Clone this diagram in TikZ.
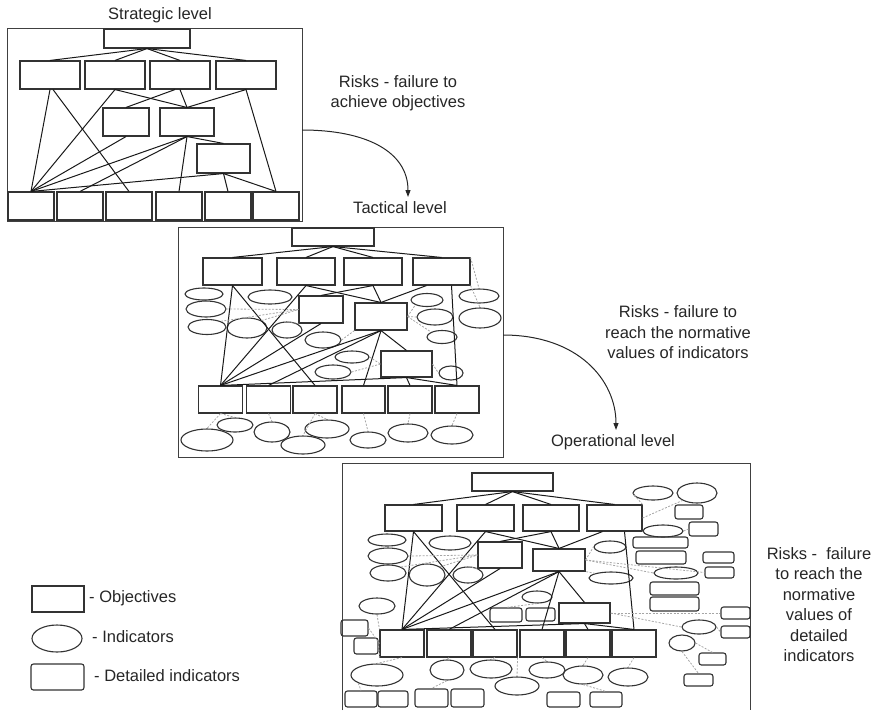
\documentclass[tikz,border=0pt]{standalone}
\usepackage{fontspec}
\setmainfont{Liberation Sans}
\usetikzlibrary{shapes.geometric,arrows.meta}

\tikzset{
  obj/.style 2 args={draw=black!80, line width=1.1pt, rectangle, inner sep=0pt, minimum width=#1pt, minimum height=#2pt},
  ind/.style 2 args={draw=black!80, line width=1.1pt, ellipse, inner sep=0pt, minimum width=#1pt, minimum height=#2pt},
  det/.style 2 args={draw=black!80, line width=1.1pt, rectangle, rounded corners=2.5pt, inner sep=0pt, minimum width=#1pt, minimum height=#2pt},
  link/.style={draw=black!90, line width=1pt},
  weak/.style={draw=black!35, line width=0.8pt, dash pattern=on 2pt off 1.5pt},
  frame/.style={draw=black!75, line width=1pt},
  flow/.style={draw=black!85, line width=1pt, -{Triangle[length=7pt,width=5pt]}},
  lbl/.style={font=\fontsize{16.5}{20.5}\selectfont, text=black!85, align=center, inner sep=0pt},
}

\begin{document}
\begin{tikzpicture}[x=1pt,y=1pt,yscale=-1]
	\useasboundingbox (0,0) rectangle (877,710);
	% strategic level
	\draw[frame] (7,28) rectangle (302,221);
	\node[obj={86}{19}] (s0) at (147,38.5) {};
	\node[obj={60}{28}] (s1) at (50,75) {};
	\node[obj={60}{28}] (s2) at (115,75) {};
	\node[obj={60}{28}] (s3) at (180,75) {};
	\node[obj={60}{28}] (s4) at (246,75) {};
	\node[obj={46}{28}] (sm1) at (126,122) {};
	\node[obj={54}{28}] (sm2) at (187,122) {};
	\node[obj={53}{29}] (sl) at (223.5,158.5) {};
	\node[obj={46}{28}] (sb1) at (31,206) {};
	\node[obj={46}{28}] (sb2) at (80,206) {};
	\node[obj={46}{28}] (sb3) at (129,206) {};
	\node[obj={46}{28}] (sb4) at (179,206) {};
	\node[obj={46}{28}] (sb5) at (228,206) {};
	\node[obj={46}{28}] (sb6) at (276,206) {};
	\coordinate (shub) at (sb1.north);
	\draw[link] (s0.south) -- (s1.north);
	\draw[link] (s0.south) -- (s2.north);
	\draw[link] (s0.south) -- (s3.north);
	\draw[link] (s0.south) -- (s4.north);
	\draw[link] (s1.south) -- (shub);
	\draw[link] ([xshift=3pt]s1.south) -- (sb3.north);
	\draw[link] (s2.south) -- (shub);
	\draw[link] (s2.south) -- (sm2.north);
	\draw[link] ([xshift=-5pt]s3.south) -- (sm1.north);
	\draw[link] (s3.south) -- (sm2.north);
	\draw[link] (s4.south) -- (sm2.north);
	\draw[link] (s4.south) -- (sb6.north);
	\draw[link] (sm1.south) -- (shub);
	\draw[link] (sm2.south) -- (shub);
	\draw[link] (sm2.south) -- (sb2.north);
	\draw[link] (sm2.south) -- (sb4.north);
	\draw[link] (sm2.south) -- (sl.north);
	\draw[link] (sl.south) -- (shub);
	\draw[link] (sl.south) -- (sb5.north);
	\draw[link] (sl.south) -- (sb6.north);
	% tactical level
	\draw[frame] (178,227) rectangle (503,457);
	\node[obj={82}{18}] (t0) at (333,237) {};
	\node[obj={59}{27}] (t1) at (232.5,271.5) {};
	\node[obj={58}{27}] (t2) at (306,271.5) {};
	\node[obj={58}{27}] (t3) at (373,271.5) {};
	\node[obj={57}{27}] (t4) at (441.5,271.5) {};
	\node[obj={44}{27}] (tm1) at (321,309.5) {};
	\node[obj={52}{27}] (tm2) at (381,316.5) {};
	\node[obj={51}{26}] (tl) at (406.5,364) {};
	\node[obj={44}{27}] (tb1) at (220.5,399.5) {};
	\node[obj={44}{27}] (tb2) at (268.5,399.5) {};
	\node[obj={44}{27}] (tb3) at (315,399.5) {};
	\node[obj={43}{27}] (tb4) at (363.5,399.5) {};
	\node[obj={44}{27}] (tb5) at (410,399.5) {};
	\node[obj={44}{27}] (tb6) at (457,399.5) {};
	\node[ind={38}{12}] (te1) at (204,294) {};
	\node[ind={40}{16}] (te2) at (206,309) {};
	\node[ind={38}{15}] (te3) at (207,327) {};
	\node[ind={44}{14}] (te4) at (270,297) {};
	\node[ind={40}{20}] (te5) at (247,328) {};
	\node[ind={30}{16}] (te6) at (287,330) {};
	\node[ind={36}{16}] (te7) at (323,340) {};
	\node[ind={34}{12}] (te8) at (352,357) {};
	\node[ind={36}{14}] (te9) at (333,372) {};
	\node[ind={32}{13}] (te10) at (427,300) {};
	\node[ind={36}{16}] (te11) at (435,317) {};
	\node[ind={30}{13}] (te12) at (442,337) {};
	\node[ind={24}{14}] (te13) at (451,373) {};
	\node[ind={40}{14}] (te14) at (479,296) {};
	\node[ind={42}{20}] (te15) at (480,318) {};
	\node[ind={52}{22}] (tbe1) at (207,440) {};
	\node[ind={36}{14}] (tbe2) at (235,425) {};
	\node[ind={36}{20}] (tbe3) at (272,432) {};
	\node[ind={44}{18}] (tbe4) at (303,445) {};
	\node[ind={44}{18}] (tbe5) at (327,429) {};
	\node[ind={36}{16}] (tbe6) at (368,440) {};
	\node[ind={40}{18}] (tbe7) at (408,433) {};
	\node[ind={42}{18}] (tbe8) at (452,435) {};
	\coordinate (thub) at (tb1.north);
	\draw[link] (t0.south) -- (t1.north);
	\draw[link] (t0.south) -- (t2.north);
	\draw[link] (t0.south) -- (t3.north);
	\draw[link] (t0.south) -- (t4.north);
	\draw[link] (t1.south) -- (thub);
	\draw[link] (t1.south) -- (tb3.north);
	\draw[link] (t2.south) -- (thub);
	\draw[link] (t2.south) -- (tm2.north);
	\draw[link] (t3.south) -- (tm1.north);
	\draw[link] (t3.south) -- (tm2.north);
	\draw[link] ([xshift=-15pt]t4.south) -- (tm2.north);
	\draw[link] ([xshift=10pt]t4.south) -- (tb6.north);
	\draw[link] (tm1.south) -- (thub);
	\draw[link] (tm2.south) -- (thub);
	\draw[link] (tm2.south) -- (tb2.north);
	\draw[link] (tm2.south) -- (tb4.north);
	\draw[link] (tm2.south) -- (tl.north);
	\draw[link] (tl.south) -- (thub);
	\draw[link] (tl.south) -- (tb5.north);
	\draw[link] (tl.south) -- (tb6.north);
	\draw[weak] (te2.east) -- (tm1.west);
	\draw[weak] (te3.north east) -- (tm1.west);
	\draw[weak] (te5.north east) -- (tm1.west);
	\draw[weak] (te6.north) -- (tm1.south west);
	\draw[weak] (tm2.east) -- (te10.south west);
	\draw[weak] (tm2.east) -- (te11.west);
	\draw[weak] (tm2.east) -- (te12.north west);
	\draw[weak] (t4.north east) -- (te14.north);
	\draw[weak] (t4.south east) -- (te15.north);
	\draw[weak] (tm2.south west) -- (te7.east);
	\draw[weak] (te9.east) -- (tl.west);
	\draw[weak] (te8.east) -- (tl.west);
	\draw[weak] (tl.east) -- (te13.west);
	\draw[weak] (tb1.south) -- (tbe1.north);
	\draw[weak] (tb1.south) -- (tbe2.north);
	\draw[weak] (tb2.south) -- (tbe3.north);
	\draw[weak] (tb3.south) -- (tbe4.north);
	\draw[weak] (tb3.south) -- (tbe5.north);
	\draw[weak] (tb4.south) -- (tbe6.north);
	\draw[weak] (tb5.south) -- (tbe7.north);
	\draw[weak] (tb6.south) -- (tbe8.north);
	% operational level
	\draw[frame] (342,710) |- (750,463) -- (750,710);
	\node[obj={81}{18}] (o0) at (512.5,482) {};
	\node[obj={57}{26}] (o1) at (413.5,518) {};
	\node[obj={57}{26}] (o2) at (485.5,518) {};
	\node[obj={56}{26}] (o3) at (551,518) {};
	\node[obj={55}{26}] (o4) at (614.5,518) {};
	\node[obj={44}{26}] (om1) at (500,555) {};
	\node[obj={52}{22}] (om2) at (559,560) {};
	\node[obj={51}{20}] (ol) at (584.5,613) {};
	\node[obj={44}{27}] (ob1) at (402,643.5) {};
	\node[obj={44}{27}] (ob2) at (449,643.5) {};
	\node[obj={44}{27}] (ob3) at (495,643.5) {};
	\node[obj={44}{27}] (ob4) at (542,643.5) {};
	\node[obj={44}{27}] (ob5) at (588,643.5) {};
	\node[obj={44}{27}] (ob6) at (634,643.5) {};
	\node[ind={38}{12}] (oe1) at (387,540) {};
	\node[ind={40}{16}] (oe2) at (388,556) {};
	\node[ind={36}{16}] (oe3) at (388,573) {};
	\node[ind={42}{14}] (oe4) at (450,543) {};
	\node[ind={36}{22}] (oe5) at (427,575) {};
	\node[ind={30}{16}] (oe6) at (468,575) {};
	\node[ind={32}{12}] (oe7) at (610,547) {};
	\node[ind={44}{12}] (oe8) at (611,578) {};
	\node[ind={30}{12}] (oe9) at (537,597) {};
	\node[ind={40}{14}] (oe10) at (653,493) {};
	\node[ind={40}{20}] (oe11) at (697,493) {};
	\node[ind={40}{12}] (oe12) at (663,531) {};
	\node[ind={44}{12}] (oe13) at (676,573) {};
	\node[ind={36}{16}] (oe14) at (377,606) {};
	\node[ind={34}{14}] (oe15) at (699,627) {};
	\node[ind={26}{16}] (oe16) at (682,643) {};
	\node[ind={52}{22}] (obe1) at (377,675) {};
	\node[ind={34}{20}] (obe2) at (447,670) {};
	\node[ind={42}{18}] (obe3) at (491,669) {};
	\node[ind={44}{18}] (obe4) at (517,686) {};
	\node[ind={36}{16}] (obe5) at (547,670) {};
	\node[ind={40}{18}] (obe6) at (583,675) {};
	\node[ind={40}{18}] (obe7) at (628,677) {};
	\node[det={32}{14}] (od1) at (506,615) {};
	\node[det={29}{13}] (od2) at (540.5,614.5) {};
	\node[det={27}{16}] (od3) at (354.5,628) {};
	\node[det={24}{16}] (od4) at (366,646) {};
	\node[det={32}{16}] (od5) at (361,699) {};
	\node[det={30}{16}] (od6) at (393,699) {};
	\node[det={33}{18}] (od7) at (431.5,698) {};
	\node[det={33}{18}] (od8) at (467.5,698) {};
	\node[det={33}{15}] (od9) at (563.5,699.5) {};
	\node[det={32}{15}] (od10) at (606,699.5) {};
	\node[det={28}{14}] (od11) at (689,512) {};
	\node[det={29}{14}] (od12) at (703.5,529) {};
	\node[det={55}{11}] (od13) at (660.5,542.5) {};
	\node[det={50}{13}] (od14) at (661,557.5) {};
	\node[det={31}{11}] (od15) at (718.5,557.5) {};
	\node[det={29}{11}] (od16) at (719.5,572.5) {};
	\node[det={49}{13}] (od17) at (674.5,588.5) {};
	\node[det={49}{14}] (od18) at (674.5,604) {};
	\node[det={29}{12}] (od19) at (735.5,613) {};
	\node[det={29}{12}] (od20) at (735.5,632) {};
	\node[det={27}{12}] (od21) at (712.5,659) {};
	\node[det={29}{12}] (od22) at (698.5,680) {};
	\coordinate (ohub) at (ob1.north);
	\draw[link] (o0.south) -- (o1.north);
	\draw[link] (o0.south) -- (o2.north);
	\draw[link] (o0.south) -- (o3.north);
	\draw[link] (o0.south) -- (o4.north);
	\draw[link] (o1.south) -- (ohub);
	\draw[link] (o1.south) -- (ob3.north);
	\draw[link] (o2.south) -- (ohub);
	\draw[link] (o2.south) -- (om2.north);
	\draw[link] (o3.south) -- (om1.north);
	\draw[link] (o3.south) -- (om2.north);
	\draw[link] ([xshift=-12pt]o4.south) -- (om2.north);
	\draw[link] ([xshift=10pt]o4.south) -- (ob6.north);
	\draw[link] (om1.south) -- (ohub);
	\draw[link] (om2.south) -- (ohub);
	\draw[link] (om2.south) -- (ob2.north);
	\draw[link] (om2.south) -- (ob4.north);
	\draw[link] (om2.south) -- (ol.north);
	\draw[link] (ol.south) -- (ohub);
	\draw[link] (ol.south) -- (ob5.north);
	\draw[link] (ol.south) -- (ob6.north);
	\draw[weak] (oe2.east) -- (om1.west);
	\draw[weak] (oe3.north east) -- (om1.west);
	\draw[weak] (oe5.north east) -- (om1.west);
	\draw[weak] (oe6.north) -- (om1.south west);
	\draw[weak] (om2.east) -- (oe7.west);
	\draw[weak] (om2.east) -- (od16.west);
	\draw[weak] (om2.east) -- (oe13.west);
	\draw[weak] (oe8.north west) -- (om2.south east);
	\draw[weak] (o4.north east) -- (oe10.west);
	\draw[weak] (o4.east) -- (oe11.south west);
	\draw[weak] (o4.south east) -- (oe12.west);
	\draw[weak] (oe12.east) -- (od12.west);
	\draw[weak] (ol.east) -- (oe15.west);
	\draw[weak] (ol.east) -- (od19.west);
	\draw[weak] (oe15.east) -- (od20.west);
	\draw[weak] (oe16.south) -- (od22.north);
	\draw[weak] (oe16.east) -- (od21.north);
	\draw[weak] (oe9.south) -- (od1.north);
	\draw[weak] (oe14.south) -- (ob1.north west);
	\draw[weak] (od3.east) -- (ob1.west);
	\draw[weak] (od4.east) -- (ob1.south west);
	\draw[weak] (ob1.south) -- (obe1.north);
	\draw[weak] (ob2.south) -- (obe2.north);
	\draw[weak] (ob3.south) -- (obe3.north);
	\draw[weak] (ob3.south east) -- (obe4.north);
	\draw[weak] (ob4.south) -- (obe5.north);
	\draw[weak] (ob5.south) -- (obe6.north);
	\draw[weak] (ob6.south) -- (obe7.north);
	\draw[weak] (obe1.south west) -- (od5.north);
	\draw[weak] (obe2.south) -- (od7.north);
	\draw[weak] (obe6.south) -- (od10.north);
	% labels and arrows
	\node[lbl] (tstrat) at (160,15) {Strategic level};
	\node[lbl] (ttact) at (400,208) {Tactical level};
	\node[lbl] (toper) at (613,442) {Operational level};
	\node[lbl] (risk1) at (398,93) {Risks - failure to\\achieve objectives};
	\node[lbl] (risk2) at (678,332.5) {Risks - failure to\\reach the normative\\values of indicators};
	\node[lbl] (risk3) at (819,604.5) {Risks -\ \ failure\\to reach the\\normative\\values of\\detailed\\indicators};
	\coordinate (r1a) at (302,130);
	\coordinate (r1b) at (408,197);
	\coordinate (r2a) at (503,335);
	\coordinate (r2b) at (616,430);
	\draw[flow] (r1a) .. controls +(65,0) and +(0,-45) .. (r1b);
	\draw[flow] (r2a) .. controls +(75,0) and +(0,-50) .. (r2b);
	% legend
	\node[obj={52}{26}] (lobj) at (58,599) {};
	\node[ind={50}{27}] (lind) at (57,638.5) {};
	\node[det={53}{26}] (ldet) at (57.5,677) {};
	\node[lbl, anchor=west] (tobj) at (89,598) {- Objectives};
	\node[lbl, anchor=west] (tind) at (92,637) {- Indicators};
	\node[lbl, anchor=west] (tdet) at (94,676) {- Detailed indicators};
\end{tikzpicture}
\end{document}
